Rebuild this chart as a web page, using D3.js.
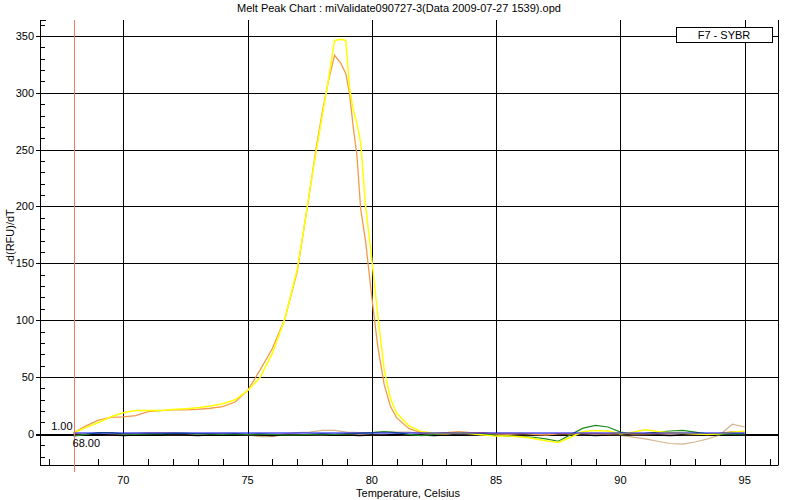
<!DOCTYPE html>
<html><head><meta charset="utf-8">
<script src="https://cdn.jsdelivr.net/npm/d3@7"></script>
<style>
body{margin:0;background:#fff;}
svg{display:block;font-family:Arial,"Liberation Sans",sans-serif;}
</style></head>
<body><svg id="c" width="800" height="500"></svg>
<script>
const title = "Melt Peak Chart : miValidate090727-3(Data 2009-07-27 1539).opd";
const xTitle = "Temperature, Celsius";
const yTitle = "-d(RFU)/dT";
const legendLabel = "F7 - SYBR";
const cursorTemp = 68.00, cursorValue = 1.00;
const xMajorTicks = [70,75,80,85,90,95];
const yMajorTicks = [0,50,100,150,200,250,300,350];

const tempsMain = [68,68.5,69,69.5,70,70.5,71,71.5,72,72.5,73,73.5,74,74.5,75,75.5,76,76.5,77,
 77.25,77.5,77.75,78,78.25,78.5,78.75,78.95,79.1,79.25,79.4,79.55,79.75,80,80.25,80.5,80.75,81,
 81.5,82,82.5,83,83.5,84,84.5,85,85.5,86,86.5,87,87.5,88,88.5,89,89.5,90,90.5,91,91.5,92,92.5,93,93.5,94,94.5,95];
const yellowF7 = [1,5.5,10,15,18.5,20.5,20.5,20.5,21.5,22,23,24.5,26.5,30,38,49.5,71,101,145,
 178,214,247,279,311,346,347,346,305,285,273,256,200,153,102,56,31,18,
 7,2,0.5,0,1,0,-1,-2,-2,-2.5,-4,-6,-7.5,-3,2,3,2.5,0,1.5,3.5,2,1,0.5,0,-0.5,0,1.5,2.5];
const orangeF7 = [1,7,12,14.5,15,16,19.5,20.5,21,21,21.5,22.5,24,28,38,56,75,101,143,
 178,213,250,282,310,333,326,317,300,270,245,198,169,120,75,43,24,14,
 4.6,0.8,0.5,1,2,1,1,0,0,0.5,-0.5,-1,0,0,0.5,0.5,0,0.5,0,0,0.5,1,0.5,0,-0.5,0.5,2,2];

const tempsBase = [68,68.5,69,69.5,70,70.5,71,71.5,72,72.5,73,73.5,74,74.5,75,75.5,76,76.5,77,77.5,
 78,78.5,79,79.5,80,80.5,81,81.5,82,82.5,83,83.5,84,84.5,85,85.5,86,86.5,87,87.5,
 88,88.5,89,89.5,90,90.5,91,91.5,92,92.5,93,93.5,94,94.5,95];
const greenWell = [-2,-0.5,1,1,0,-0.5,0,0,0.5,0.5,0,0,-0.5,0,-0.5,0,-0.5,-1,-1,-0.5,
 0,-0.5,0,0.5,1,2,1,-0.5,-1.5,-0.5,0.5,1,0.5,0,-1,-2,-2.5,-3,-4.5,-6.5,
 -0.7,5,7.5,6,1.5,0,0.5,1.5,2.5,3,1.5,0,-0.5,0,0];
const tanWell = [0,-0.5,-0.5,0,0,0.5,1,1,1,0.5,0,0,0.5,0.5,-1,-2.5,-2.5,0,1,1.5,
 3,3,1.5,1,1,2,1.5,1.5,0.5,0,1,1,0,0,0.5,0.5,0,0,-0.5,-0.5,
 -0.5,-0.5,-0.5,-1,-1.3,-2.8,-4.5,-6.5,-8.5,-9,-7.2,-4.5,-1,8.5,6];
const pinkWell = [0,-0.5,-0.5,-1,-1,-0.5,0,-0.5,-1,-1,-0.5,0,-0.5,-0.5,-1,-1,-0.5,0,-0.5,-1,
 -1,-0.5,0,-0.5,-1,-0.5,-0.5,-1,-1,-0.5,0,-0.5,-1,-1,-0.5,-0.5,-1,-1,-0.5,0,
 -0.5,-1,-1,-0.5,-0.5,-1,-1,-0.5,-0.5,-1,-1,-0.5,0,-0.5,-1];
const blackWell = [-1,-1,-0.5,-1,-1.5,-1,-1,-0.5,-1,-1,-1.5,-1,-1,-0.5,-1,-1,-1.5,-1,-1,-1,
 -0.5,-1,-1,-1.5,-1,-1,-0.5,-1,-1,-1.5,-1,-1,-1,-0.5,-1,-1.5,-1,-1,-1,-0.5,
 -1,-1,-1.5,-1,-1,-0.5,-1,-1,-1.5,-1,-1,-1,-0.5,-1,-1];
const blueWell = [0.7,0.7,0.7,0.7,0.7,0.7,0.7,0.7,0.7,0.7,0.7,0.7,0.7,0.7,0.7,0.7,0.7,0.7,0.7,0.7,
 0.7,0.7,0.7,0.7,0.7,0.7,0.7,0.7,0.7,0.7,0.7,0.7,0.7,0.7,0.7,0.7,0.7,0.7,0.7,0.7,
 0.7,0.7,0.7,0.7,0.7,0.7,0.7,0.7,0.7,0.7,0.7,0.7,0.7,0.7,0.7];

const L=40, R=778.5, T=20, B=465;
const svg = d3.select("#c");
const x = d3.scaleLinear().domain([66.65, 96.36]).range([L, R]);
const y = d3.scaleLinear().domain([-27.4, 364]).range([B, T]);
const px = v => Math.round(v) + 0.5;

// title
svg.append("text").attr("x", 399).attr("y", 12).attr("text-anchor","middle")
  .attr("font-size", 11).text(title);

const g = svg.append("g");
const xMinor = d3.range(67, 97, 1).filter(t => !xMajorTicks.includes(t));
g.selectAll(".xm").data(xMinor).join("line")
  .attr("x1", d=>px(x(d))).attr("x2", d=>px(x(d))).attr("y1", B).attr("y2", B-6)
  .attr("stroke","#000").attr("shape-rendering","crispEdges");
const yMinor = d3.range(-20, 364, 10).filter(v => !yMajorTicks.includes(v));
g.selectAll(".ym").data(yMinor).join("line")
  .attr("y1", d=>px(y(d))).attr("y2", d=>px(y(d))).attr("x1", L).attr("x2", L+5)
  .attr("stroke","#000").attr("shape-rendering","crispEdges");
g.selectAll(".xg").data(xMajorTicks).join("line")
  .attr("x1", d=>px(x(d))).attr("x2", d=>px(x(d))).attr("y1", T).attr("y2", B)
  .attr("stroke","#000").attr("shape-rendering","crispEdges");
g.selectAll(".yg").data(yMajorTicks).join("line")
  .attr("y1", d=>px(y(d))).attr("y2", d=>px(y(d))).attr("x1", L-4).attr("x2", R)
  .attr("stroke","#000").attr("stroke-width", d=> d===0?2:1).attr("shape-rendering","crispEdges");
g.append("line").attr("x1",L+0.5).attr("x2",L+0.5).attr("y1",T).attr("y2",B).attr("stroke","#000");
g.append("line").attr("x1",L).attr("x2",R).attr("y1",B+0.5).attr("y2",B+0.5).attr("stroke","#000");
g.append("line").attr("x1",R).attr("x2",R).attr("y1",T).attr("y2",B).attr("stroke","#000");
g.append("line").attr("x1",L).attr("x2",L+6).attr("y1",T+0.5).attr("y2",T+0.5).attr("stroke","#000");

svg.selectAll(".xl").data(xMajorTicks).join("text")
  .attr("x", d=>x(d)).attr("y", 484).attr("text-anchor","middle").attr("font-size",11).text(d=>d);
svg.selectAll(".yl").data(yMajorTicks).join("text")
  .attr("x", 34).attr("y", d=>y(d)+4).attr("text-anchor","end").attr("font-size",11).text(d=>d);
svg.append("text").attr("x", 408).attr("y", 497).attr("text-anchor","middle").attr("font-size",11).text(xTitle);
svg.append("text").attr("transform","translate(14,237) rotate(-90)").attr("text-anchor","middle")
  .attr("font-size",11).text(yTitle);

svg.append("clipPath").attr("id","clip").append("rect").attr("x",L+1).attr("y",T).attr("width",R-L-1).attr("height",B-T);
const plot = svg.append("g").attr("clip-path","url(#clip)");
const line = (ts) => d3.line().x((d,i)=>x(ts[i])).y(d=>y(d));
const series = [
  {vals: tanWell, ts: tempsBase, color:"#D2B48C", w:1.2},
  {vals: pinkWell, ts: tempsBase, color:"#F0B4B4", w:1.2},
  {vals: blackWell, ts: tempsBase, color:"#000000", w:1.5},
  {vals: greenWell, ts: tempsBase, color:"#1E8C1E", w:1.2},
  {vals: orangeF7, ts: tempsMain, color:"#F39A48", w:1.3},
  {vals: yellowF7, ts: tempsMain, color:"#FFFF00", w:1.5},
  {vals: blueWell, ts: tempsBase, color:"#0000FF", w:1.1}
];
plot.selectAll(".s").data(series).join("path")
  .attr("d", d=>line(d.ts)(d.vals)).attr("fill","none")
  .attr("stroke", d=>d.color).attr("stroke-width", d=>d.w);

svg.append("line").attr("x1", px(x(cursorTemp))).attr("x2", px(x(cursorTemp))).attr("y1", T).attr("y2", 472)
  .attr("stroke","#F07860").attr("shape-rendering","crispEdges");
svg.append("text").attr("x", x(cursorTemp)-1).attr("y", 430).attr("text-anchor","end").attr("font-size",11).text(cursorValue.toFixed(2));
svg.append("text").attr("x", x(cursorTemp)-1).attr("y", 447).attr("text-anchor","start").attr("font-size",11).text(cursorTemp.toFixed(2));

svg.append("rect").attr("x",676.5).attr("y",27.5).attr("width",96).attr("height",15)
  .attr("fill","#fff").attr("stroke","#000");
svg.append("text").attr("x",724).attr("y",39).attr("text-anchor","middle").attr("font-size",11).text(legendLabel);
</script></body></html>
